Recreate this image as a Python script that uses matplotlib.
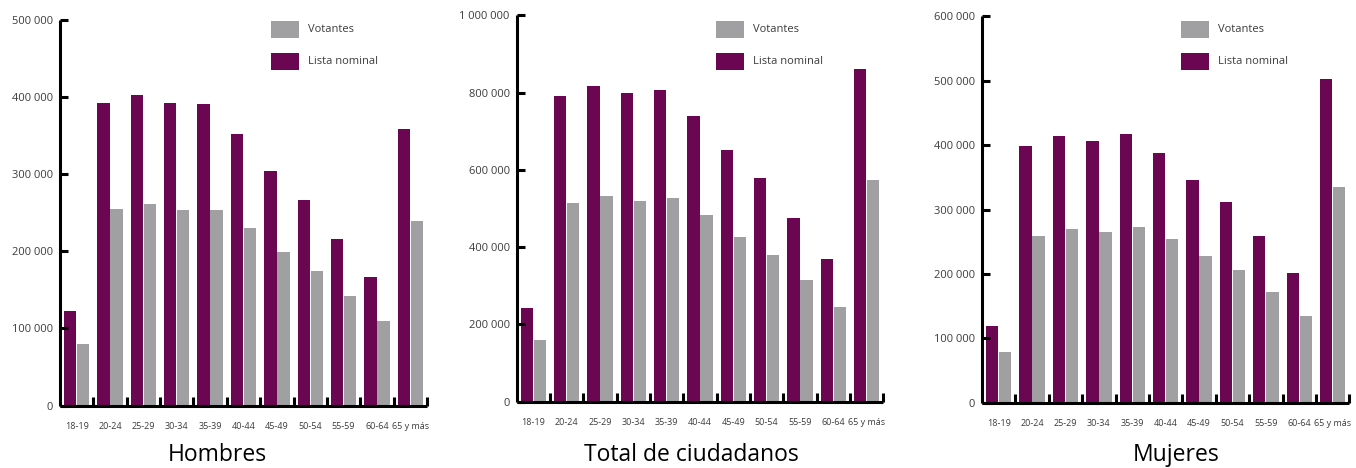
import numpy as np
import matplotlib
matplotlib.use("Agg")
import matplotlib.pyplot as plt
from matplotlib.patches import Rectangle
from matplotlib.ticker import FuncFormatter

plt.rcParams["font.family"] = ["Open Sans", "DejaVu Sans"]

# ─────────────────────────────────────────────
# Data
# ─────────────────────────────────────────────
age_groups = ["18-19", "20-24", "25-29", "30-34", "35-39", "40-44",
              "45-49", "50-54", "55-59", "60-64", "65 y más"]
series_labels = ["Votantes", "Lista nominal"]

hombres_lista = [122600, 392000, 402400, 392000, 390800, 351900,
                 304000, 266400, 215900, 166700, 358400]
hombres_votantes = [79900, 254700, 261200, 253500, 253500, 230100,
                    199000, 174400, 142000, 109700, 239200]

total_lista = [242400, 791200, 817000, 799000, 806700, 739400,
               651400, 579000, 475400, 369300, 861100]
total_votantes = [159600, 514200, 532400, 519400, 527200, 483200,
                  426200, 379700, 314900, 245000, 573800]

mujeres_lista = [119000, 398600, 414100, 406300, 417200, 387700,
                 345800, 311600, 258800, 201300, 502600]
mujeres_votantes = [78700, 258800, 269700, 265000, 272800, 254100,
                    227700, 206000, 171800, 134600, 334900]

PURPLE = "#6b0653"
GRAY = "#a0a0a2"
TXT = "#3c3c3c"

W, H = 1356, 468
fig = plt.figure(figsize=(W / 100, H / 100), dpi=100)


def px_axes(left, top, right, bottom):
    """Axes from a pixel box (origin top-left)."""
    return fig.add_axes([left / W, 1 - bottom / H, (right - left) / W, (bottom - top) / H])


def space_fmt(v, _pos):
    return f"{v:,.0f}".replace(",", " ")


def draw_legend(x0):
    # swatches + labels placed in figure pixels
    for (y0, y1), col, lab in zip([(21, 37.7), (52.7, 70)], [GRAY, PURPLE], series_labels):
        fig.add_artist(Rectangle((x0 / W, 1 - y1 / H), 28 / W, (y1 - y0) / H,
                                 transform=fig.transFigure, facecolor=col, linewidth=0))
        fig.text((x0 + 37) / W, 1 - (y0 + y1) / 2 / H, lab, ha="left", va="center",
                 fontsize=8, color=TXT)


def draw_panel(ax, lista, votantes, ymax, ystep, title, title_x, leg_x):
    x = np.arange(len(age_groups))
    bw = 0.37
    ax.bar(x - 0.195, lista, width=bw, color=PURPLE, linewidth=0)
    ax.bar(x + 0.195, votantes, width=bw, color=GRAY, linewidth=0)

    ax.set_xlim(-0.5, len(age_groups) - 0.5)
    ax.set_ylim(0, ymax)

    for s in ("top", "right"):
        ax.spines[s].set_visible(False)
    for s in ("left", "bottom"):
        ax.spines[s].set_linewidth(2.2)
        ax.spines[s].set_color("black")
        ax.spines[s].set_capstyle("butt")

    # y ticks pointing inward
    ax.set_yticks(np.arange(0, ymax + 1, ystep))
    ax.yaxis.set_major_formatter(FuncFormatter(space_fmt))
    ax.tick_params(axis="y", direction="in", length=6, width=2.2,
                   labelsize=8, labelcolor=TXT, pad=5)

    # x: boundary ticks pointing up, labels at group centres
    ax.set_xticks(np.append(x[:-1] + 0.5, len(age_groups) - 0.5))
    ax.set_xticklabels([])
    ax.tick_params(axis="x", which="major", direction="in", length=6.5, width=2.2)
    ax.set_xticks(x, minor=True)
    ax.set_xticklabels(age_groups, minor=True)
    ax.tick_params(axis="x", which="minor", length=0, labelsize=6.5,
                   labelcolor=TXT, pad=12)

    draw_legend(leg_x)
    fig.text(title_x / W, 1 - 455 / H, title, ha="center", va="center",
             fontsize=16.5, color="black")


ax1 = px_axes(60, 19.5, 427, 405.7)
draw_panel(ax1, hombres_lista, hombres_votantes, 500000, 100000,
           "Hombres", 217, 271)

ax2 = px_axes(516.7, 15.3, 883.3, 401.7)
draw_panel(ax2, total_lista, total_votantes, 1000000, 200000,
           "Total de ciudadanos", 691, 716)

ax3 = px_axes(982, 16.3, 1349.3, 402.7)
draw_panel(ax3, mujeres_lista, mujeres_votantes, 600000, 100000,
           "Mujeres", 1176, 1181)

fig.savefig("out.png", dpi=100)
